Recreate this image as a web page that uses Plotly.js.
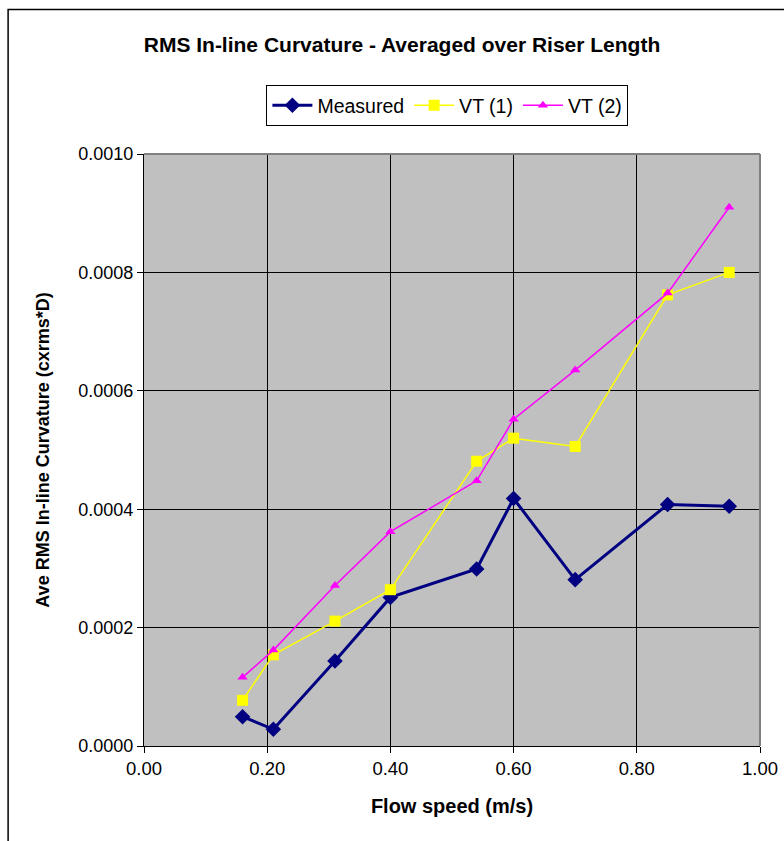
<!DOCTYPE html>
<html>
<head>
<meta charset="utf-8">
<script src="https://cdn.plot.ly/plotly-3.0.1.min.js"></script>
<style>
html,body{margin:0;padding:0;background:#fff;}
#chart{width:784px;height:841px;}
</style>
</head>
<body>
<div id="chart"></div>
<script>
var flowSpeed = [0.16, 0.21, 0.31, 0.40, 0.54, 0.60, 0.70, 0.85, 0.95];
var measured = [0.0000495, 0.0000282, 0.0001436, 0.000251, 0.000299, 0.000418, 0.000281, 0.000408, 0.000405];
var vt1 = [0.0000772, 0.000154, 0.000211, 0.000264, 0.000481, 0.000520, 0.000506, 0.000762, 0.000800];
var vt2 = [0.000116, 0.000162, 0.000271, 0.000362, 0.000448, 0.000552, 0.000635, 0.000765, 0.000910];
var seriesNames = ["Measured", "VT (1)", "VT (2)"];

var font = "Arial, 'Liberation Sans', sans-serif";

var traces = [
  {x: flowSpeed, y: measured, name: seriesNames[0], type: "scatter", mode: "lines+markers",
   line: {color: "#000080", width: 3}, marker: {symbol: "diamond", size: 12, color: "#000080"}},
  {x: flowSpeed, y: vt1, name: seriesNames[1], type: "scatter", mode: "lines+markers",
   line: {color: "#FFFF00", width: 1.5}, marker: {symbol: "square", size: 11, color: "#FFFF00"}},
  {x: flowSpeed, y: vt2, name: seriesNames[2], type: "scatter", mode: "lines+markers",
   line: {color: "#FF00FF", width: 1.5}, marker: {symbol: "triangle-up", size: 9, color: "#FF00FF"}}
];

var L = 143.5, R = 760, T = 154, B = 746;
var pw = R - L, ph = B - T;
function px(x){return (x - L)/pw;}
function py(y){return (B - y)/ph;}

var layout = {
  width: 784, height: 841,
  margin: {l: L, r: 784 - R, t: T, b: 841 - B, pad: 0},
  paper_bgcolor: "#FFFFFF",
  plot_bgcolor: "#C0C0C0",
  font: {family: font, size: 18, color: "#000"},
  title: {text: "<b>RMS In-line Curvature - Averaged over Riser Length</b>",
          font: {family: font, size: 21, color: "#000"},
          xref: "container", yref: "container", x: 402/784, y: 1 - 45/841,
          xanchor: "center", yanchor: "middle"},
  showlegend: true,
  legend: {orientation: "h", x: px(266), y: py(85), xanchor: "left", yanchor: "top",
           bgcolor: "#FFFFFF", bordercolor: "#000", borderwidth: 1,
           font: {family: font, size: 19.5, color: "#000"}, itemwidth: 40, tracegroupgap: 0},
  xaxis: {range: [0, 1], dtick: 0.2, tick0: 0, tickformat: ".2f",
          showgrid: true, gridcolor: "#000", gridwidth: 1,
          showline: true, linecolor: "#000", linewidth: 1,
          ticks: "outside", ticklen: 6, tickcolor: "#000", tickwidth: 1,
          zeroline: false, fixedrange: true,
          tickfont: {family: font, size: 18.5, color: "#000"},
          title: {text: "<b>Flow speed (m/s)</b>", font: {family: font, size: 20, color: "#000"}, standoff: 20}},
  yaxis: {range: [0, 0.001], dtick: 0.0002, tick0: 0, tickformat: ".4f",
          showgrid: true, gridcolor: "#000", gridwidth: 1,
          showline: true, linecolor: "#000", linewidth: 1,
          ticks: "outside", ticklen: 6, tickcolor: "#000", tickwidth: 1,
          zeroline: false, fixedrange: true,
          tickfont: {family: font, size: 18, color: "#000"},
          title: {text: "<b>Ave RMS In-line Curvature (cxrms*D)</b>", font: {family: font, size: 18, color: "#000"}, standoff: 24}},
  shapes: [
    {type: "line", xref: "paper", yref: "paper", x0: 0, x1: 1, y0: 1, y1: 1, line: {color: "#808080", width: 2}, layer: "above"},
    {type: "line", xref: "paper", yref: "paper", x0: 1, x1: 1, y0: 0, y1: 1, line: {color: "#808080", width: 2}, layer: "above"},
    {type: "rect", xref: "paper", yref: "paper", x0: px(7.5), x1: px(800), y0: py(9.5), y1: py(900), line: {color: "#000", width: 1.5}, fillcolor: "rgba(0,0,0,0)", layer: "below"}
  ]
};

Plotly.newPlot("chart", traces, layout, {displayModeBar: false, staticPlot: true});
</script>
</body>
</html>
